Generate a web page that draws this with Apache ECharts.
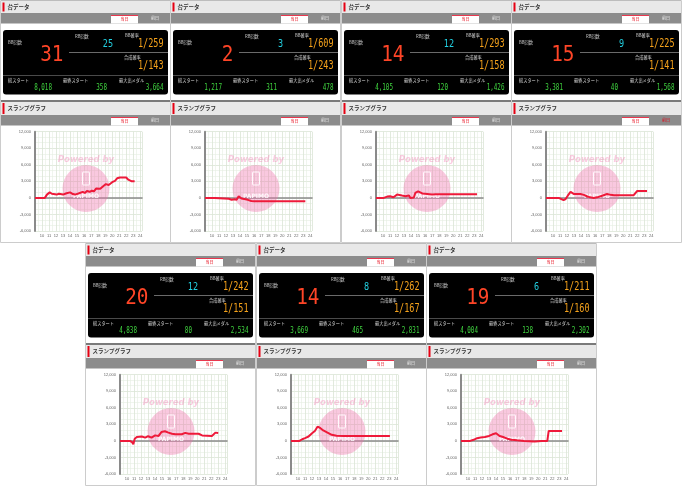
<!DOCTYPE html>
<html><head><meta charset="utf-8">
<script src="https://cdn.jsdelivr.net/npm/echarts@6/dist/echarts.min.js"></script>
<style>html,body{margin:0;padding:0;background:#fff}#c{width:684px;height:487px}</style>
</head><body><div id="c"></div>
<script>
// ---- data ----
const bbCount    = [31, 2, 14, 15, 20, 14, 19];
const rbCount    = [25, 3, 12, 9, 12, 8, 6];
const bbProb     = ['1/259','1/609','1/293','1/225','1/242','1/262','1/211'];
const totalProb  = ['1/143','1/243','1/158','1/141','1/151','1/167','1/160'];
const totalStart = ['8,018','1,217','4,105','3,381','4,838','3,669','4,004'];
const lastStart  = ['358','311','120','40','80','465','138'];
const maxMedal   = ['3,664','478','1,426','1,568','2,534','2,831','2,302'];

const slump1 = [[9,0],[10.4,0],[10.7,600],[10.9,850],[11.1,1000],[11.4,750],[11.6,800],[12.1,600],[12.4,750],[12.6,800],[13.0,600],[13.5,850],[14.0,1000],[14.4,700],[14.7,600],[15.2,800],[15.4,600],[15.8,1100],[16.1,900],[16.4,1250],[16.8,1100],[17.1,1300],[17.4,1200],[17.7,1700],[17.9,1800],[18.3,1650],[18.8,2200],[19.1,2500],[19.5,2350],[20.0,2850],[20.4,3100],[20.7,3550],[21.1,3700],[22.0,3700],[22.3,3300],[22.8,3000],[23.2,3000]];
const slump2 = [[9,0],[10.4,0],[10.6,-150],[12.4,-150],[12.8,-350],[13.2,-250],[13.5,-350],[13.8,300],[14.2,-100],[14.6,-200],[15.1,-350],[15.6,-550],[16.0,-600],[23.3,-600]];
const slump3 = [[9,0],[10.1,0],[10.3,-180],[10.6,240],[11.0,300],[11.5,120],[12.0,600],[12.2,240],[12.7,420],[13.2,300],[13.7,420],[13.9,0],[14.4,60],[14.6,900],[15.0,1200],[15.6,800],[15.8,900],[16.3,700],[16.5,850],[17.0,600],[17.5,650],[23.4,650]];
const slump4 = [[9,0],[10.8,0],[11.0,-180],[11.5,-400],[11.8,-200],[12.1,400],[12.5,1100],[12.7,850],[13.0,700],[13.2,900],[13.4,700],[13.9,700],[14.1,400],[14.4,550],[14.9,250],[15.3,100],[15.8,0],[16.0,150],[16.3,100],[16.5,400],[17.0,400],[17.2,600],[17.7,700],[18.2,550],[18.7,500],[21.5,500],[22.0,1250],[23.4,1250]];
const slump5 = [[9,0],[10.4,0],[10.7,-200],[10.9,-600],[11.1,400],[11.4,700],[11.6,550],[12.1,800],[12.6,600],[13.0,850],[13.5,600],[14.0,1000],[14.5,900],[14.9,1600],[15.4,1750],[15.9,1500],[16.4,1300],[16.9,1200],[17.8,1200],[18.3,1450],[18.8,1300],[20.2,1300],[20.7,1000],[22.1,900],[22.6,1500],[23.0,1450]];
const slump6 = [[9,0],[10.2,0],[10.6,300],[11.0,500],[11.5,800],[12.0,1400],[12.4,1800],[12.8,2600],[13.2,2300],[13.6,1900],[14.2,1500],[14.8,1100],[15.5,950],[16.5,900],[23.1,900]];
const slump7 = [[9,0],[10.3,0],[10.8,200],[11.3,500],[11.8,600],[12.4,700],[13.0,900],[13.5,1200],[14.0,1400],[14.5,900],[15.0,700],[15.6,400],[16.2,200],[17.0,100],[18.0,0],[19.5,-100],[20.5,0],[21.3,0],[21.5,1800],[23.4,1800]];
const slumps = [slump1, slump2, slump3, slump4, slump5, slump6, slump7];

const headerTitles = ['台データ', 'スランプグラフ'];
const tabLabels = ['当日', '前日'];
const dispLabels = ['BB回数','RB回数','BB確率','合成確率','総スタート','最終スタート','最大出メダル'];

// ---- layout ----
const panels = [[0,0],[170,0],[341,0],[511,0],[85,243],[256,243],[426,243]];
const JP = '"Noto Sans CJK JP"';
const NUM = '"DejaVu Sans Mono"';
const G = [], grids = [], xAxes = [], yAxes = [], series = [];

function txt(x, y, text, size, fill, align, opts) {
  const o = Object.assign({type:'text', x:x, y:y, z:5, silent:true,
    style:{text:text, x:0, y:0, fontSize:size, fontFamily:JP, fill:fill, align:align||'left', verticalAlign:'middle'}}, opts||{});
  if (opts && opts.style) o.style = Object.assign({text:text, x:0, y:0, fontSize:size, fontFamily:JP, fill:fill, align:align||'left', verticalAlign:'middle'}, opts.style);
  return o;
}

panels.forEach(([ox, oy], i) => {
  G.push({type:'rect', z:-5, silent:true, shape:{x:ox+0.5, y:oy+0.5, width:170, height:242}, style:{fill:'#fff', stroke:'#cccccc', lineWidth:1}});
  [0, 100].forEach((dy, s) => {
    const y0 = oy + dy;
    const hh = s ? 15 : 13;
    G.push({type:'rect', silent:true, shape:{x:ox+1, y:y0, width:169, height:hh}, style:{fill:'#e8e8e8'}});
    G.push({type:'rect', silent:true, shape:{x:ox+1, y:y0, width:169, height:s?2:1}, style:{fill:s?'#7a7a7a':'#bcbcbc'}});
    G.push({type:'rect', silent:true, shape:{x:ox+2.5, y:y0+(s?3:2.5), width:2, height:s?11:9}, style:{fill:'#e60012'}});
    G.push(txt(ox+7.5, y0+hh/2+0.5, headerTitles[s], 5.5, '#333', 'left', {style:{fontWeight:'bold'}}));
    G.push({type:'rect', silent:true, shape:{x:ox+1, y:y0+hh, width:169, height:10.5}, style:{fill:'#8c8c8c'}});
    G.push({type:'rect', silent:true, shape:{x:ox+111, y:y0+hh+2, width:27, height:8.5}, style:{fill:'#fff'}});
    G.push({type:'rect', silent:true, shape:{x:ox+111, y:y0+hh+2, width:27, height:1}, style:{fill:'#e8384f'}});
    G.push(txt(ox+124.5, y0+hh+6.5, tabLabels[0], 4, '#e60012', 'center'));
    G.push(txt(ox+155, y0+hh+5.5, tabLabels[1], 4, (i===3&&s===1)?'#e60012':'#eeeeee', 'center'));
  });
  // display box
  G.push({type:'rect', silent:true, shape:{x:ox+3, y:oy+30, width:165, height:64.5, r:3}, style:{fill:'#000'}});
  G.push({type:'line', silent:true, z:4, shape:{x1:ox+69, y1:oy+52.5, x2:ox+168, y2:oy+52.5}, style:{stroke:'#6a6a6a', lineWidth:1}});
  G.push({type:'line', silent:true, z:4, shape:{x1:ox+3, y1:oy+75.5, x2:ox+168, y2:oy+75.5}, style:{stroke:'#4a4a4a', lineWidth:1}});
  const lab = [[8,42],[75,36],[125,35],[124,57],[8,80],[63,80],[119,80]];
  lab.forEach((p, k) => G.push(txt(ox+p[0], oy+p[1], dispLabels[k], 4.2, '#d6d6d6', 'left')));
  const num = (x, y, t, size, fill, sx) => ({type:'text', x:ox+x, y:oy+y, scaleX:sx, z:5, silent:true,
    style:{text:t, x:0, y:0, fontSize:size, fontFamily:NUM, fill:fill, align:'right', verticalAlign:'middle'}});
  G.push(num(63.5, 55.5, String(bbCount[i]), 21, '#ff4527', 0.92));
  G.push(num(113, 44, String(rbCount[i]), 10, '#22cfe0', 0.85));
  G.push(num(163.5, 43.7, bbProb[i], 11.5, '#f5a21b', 0.74));
  G.push(num(163.5, 66, totalProb[i], 11.5, '#f5a21b', 0.74));
  G.push(num(52, 87.5, totalStart[i], 8, '#3fd43f', 0.74));
  G.push(num(107, 87.5, lastStart[i], 8, '#3fd43f', 0.74));
  G.push(num(163.5, 87.5, maxMedal[i], 8, '#3fd43f', 0.74));
  // watermark
  G.push({type:'circle', silent:true, z:1, shape:{cx:ox+86, cy:oy+188.5, r:23.5}, style:{fill:'rgba(240,110,170,0.38)'}});
  G.push({type:'rect', silent:true, z:1, shape:{x:ox+82.5, y:oy+172, width:7, height:13, r:1}, style:{fill:'none', stroke:'rgba(255,255,255,0.9)', lineWidth:1}});
  G.push(txt(ox+86, oy+196.5, 'PAPIMO', 6, 'rgba(255,255,255,0.9)', 'center', {z:1, style:{fontWeight:'bold', fontFamily:'"DejaVu Sans"'}}));
  G.push(txt(ox+86, oy+160, 'Powered by', 8.5, 'rgba(240,110,170,0.35)', 'center', {z:1, style:{fontWeight:'bold', fontStyle:'italic', fontFamily:'"DejaVu Sans"'}}));

  // chart
  grids.push({left:ox+35, top:oy+131.7, width:107, height:99.3});
  xAxes.push({gridIndex:i, type:'value', min:9, max:24.25, interval:1,
    axisLine:{show:false, onZero:false}, axisTick:{show:false},
    axisLabel:{fontSize:4, color:'#666', margin:3, showMinLabel:true, showMaxLabel:true,
      formatter:v => (v>9 && Math.abs(v-Math.round(v))<1e-6) ? String(v) : ''},
    splitLine:{show:true, lineStyle:{color:'#dbe5d5', width:0.8}},
    minorTick:{show:false, splitNumber:2},
    minorSplitLine:{show:true, lineStyle:{color:'#e6eee2', width:0.6}}});
  yAxes.push({gridIndex:i, type:'value', min:-6000, max:12000, interval:3000,
    axisLine:{show:true, lineStyle:{color:'#8a8a8a', width:2}}, axisTick:{show:false},
    axisLabel:{fontSize:4, color:'#666', margin:4, formatter:v => v.toLocaleString('en-US')},
    splitLine:{show:true, lineStyle:{color:'#dbe5d5', width:0.8}},
    minorTick:{show:false, splitNumber:3},
    minorSplitLine:{show:true, lineStyle:{color:'#e6eee2', width:0.6}}});
  series.push({type:'line', xAxisIndex:i, yAxisIndex:i, data:slumps[i], symbol:'none', silent:true,
    lineStyle:{color:'#ee1a3a', width:2}, z:3, animation:false});
});
// zero lines as secondary x axes
panels.forEach((p, i) => {
  xAxes.push({gridIndex:i, type:'value', min:9, max:24.25, position:'bottom',
    axisLine:{show:true, onZero:true, onZeroAxisIndex:i, lineStyle:{color:'#8a8a8a', width:1.6}},
    axisTick:{show:false}, axisLabel:{show:false}, splitLine:{show:false}});
});

const chart = echarts.init(document.getElementById('c'), null, {renderer:'canvas'});
chart.setOption({animation:false, grid:grids, xAxis:xAxes, yAxis:yAxes, series:series, graphic:{elements:G}});
</script></body></html>
